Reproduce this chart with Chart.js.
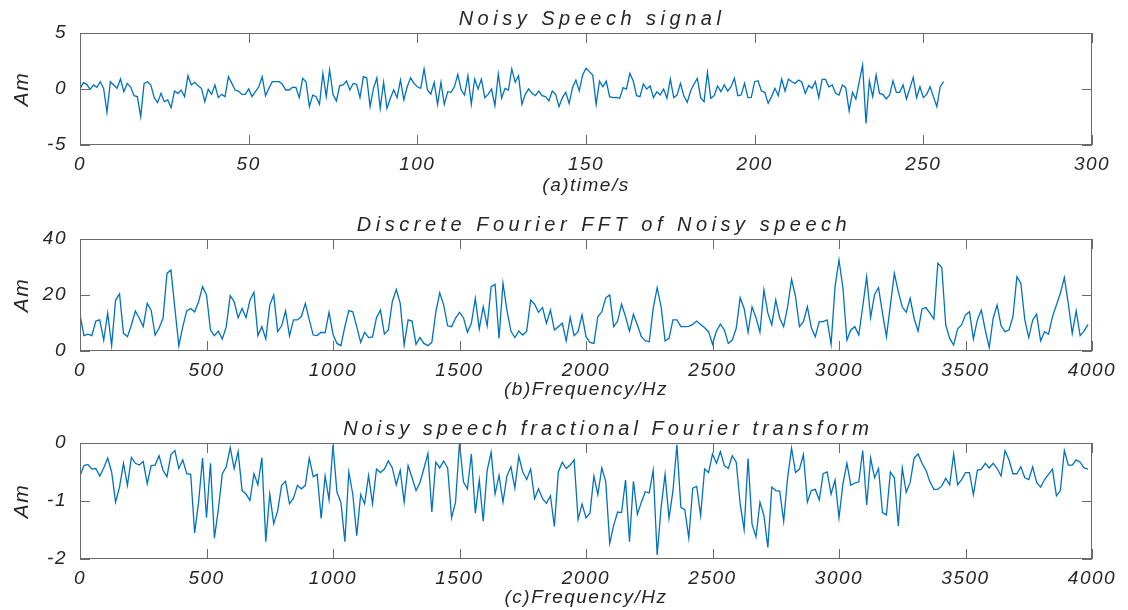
<!DOCTYPE html>
<html>
<head>
<meta charset="utf-8">
<script src="https://cdn.jsdelivr.net/npm/chart.js@4.4.0/dist/chart.umd.min.js"></script>
<style>
  html, body { margin: 0; padding: 0; background: #fff; }
  #wrap { position: relative; width: 1128px; height: 610px; }
  canvas { position: absolute; left: 0; }
</style>
</head>
<body>
<div id="wrap">
  <canvas id="c1" width="1128" height="205" style="top:0px"></canvas>
  <canvas id="c2" width="1128" height="205" style="top:205px"></canvas>
  <canvas id="c3" width="1128" height="200" style="top:410px"></canvas>
</div>
<script>
// (a) noisy speech samples, one per second index
const timeSignal = [
  0, 0.57, 0.42, -0.03, 0.36, 0.15, 0.65, 0.06, -2.08, 0.65,
  0.36, 0.06, 0.89, -0.24, 0.5, 0.2, -0.6, -0.68, -2.47, 0.5,
  0.65, 0.36, -0.77, -1.22, -0.39, -1.13, -0.98, -1.67, -0.18, -0.39,
  -0.09, -0.68, 1.19, 0.36, 0.6, 0.3, 0.06, -1.13, -0.03, -0.48,
  0.36, -0.77, -0.48, -0.68, 1.1, 0.5, -0.09, -0.18, -0.48, -0.48,
  0, -0.68, -0.24, 0.2, 1.1, -0.6, 0.06, 0.65, 0.65, 0.65,
  0.42, -0.09, -0.09, 0.15, 0.15, -0.77, 0.95, 0.65, -1.58, -0.54,
  -0.68, -1.37, 1.4, -0.68, 1.7, -0.48, -1.07, 0.3, 0.36, 0.71,
  -0.09, 0.5, 0.42, -0.77, 1.1, 1.0, -1.58, 0.06, 1.0, -1.73,
  0.6, -1.73, -0.83, -0.09, -0.77, 0.8, -0.98, 0.2, 1.0, 0.5,
  0.2, 0.06, 1.79, -0.09, -0.45, 0.6, -1.37, 0.6, -1.37, -0.24,
  -0.3, 0.2, 1.3, -0.09, -0.54, 1.19, -1.37, 0.89, 0, 0.89,
  -0.77, -0.48, 0, -1.49, 1.34, -0.83, 0.06, -0.09, 1.79,
  0.6, 1.19, -1.37, -0.48, 0, -0.39, -0.6, -0.18, -0.6, -0.68, -1.07,
  -0.18, -0.48, -1.58, -0.77, -0.3, -1.28, 0.12, 0.8, -0.18, 1.25,
  1.85, 1.55, 1.25, -1.37, 0.71, 0.2, 0.71, -0.68, -0.77, -0.74,
  -0.83, 0.12, 0, 1.4, 0.71, -0.6, -0.68, 0.45, 0, 0.27,
  -0.77, -0.24, -0.54, 0, -0.83, 0.89, -0.77, -0.54, 0.5, -0.6,
  -1.19, -0.18, 0.42, 0.95, -0.77, -1.13, 1.49, -0.83, -0.6, 0.27,
  -0.24, 0.36, -0.18,
  0.2, 0.95, -0.6, -0.54, 0.5, -0.77, -0.74,
  0.65, 0.74, -0.18, -0.3, -1.28, -0.68, 0.06, -0.6, 0.89, -0.18,
  0.89, 0.65, 0.5, 0.8, 0.6, -0.39, 0.3, 0.06, 0.65, -0.77,
  0.86, 0.86, 0.2, 0.36, -0.39, -0.54, 0.36, 0.12, -1.96, -0.3,
  -0.89, 0.65, 2.14, -3.07, 0.71, -0.68, 1.25, -0.39, -0.48, -0.89,
  -0.54, 0.74, -0.3, -0.3, 0.36, -0.89, 0.06, 1.04, -0.77, 0.2,
  -0.77, -0.48, 0.2, -0.68, -1.58, 0.2, 0.65
];

// (b) FFT magnitude, one value per frequency bin
const fftMagnitude = [
  13.1, 5.5, 6.0, 5.5, 10.7, 11.1, 3.9, 13.5, 1.9, 18.2,
  20.4, 6.3, 5.1, 9.3, 14.3, 11.7, 8.7, 17.0, 14.6, 5.7,
  8.1, 11.7, 27.7, 28.9, 15.2, 1.9, 8.7, 14.3, 15.2, 14.0,
  17.6, 23.0, 20.0, 7.5, 5.5, 7.1, 4.3, 8.7, 19.8, 17.6,
  11.9, 15.2, 11.9, 18.2, 21.0, 5.5, 8.7, 4.3, 16.4, 20.0,
  6.9, 9.0, 14.3, 5.4, 11.1, 11.1, 12.3, 17.0, 11.1, 5.7,
  5.5, 6.7, 6.5, 13.8, 6.0, 2.7, 1.9, 8.7, 14.4, 14.0,
  8.7, 3.1, 6.7, 4.8, 5.0, 11.9, 14.6, 6.0, 7.5, 17.6,
  22.0, 17.0, 2.1, 11.1, 10.7, 2.4, 4.8, 2.7, 1.9, 3.1,
  13.8, 20.8, 16.4, 9.0, 8.7, 11.7, 13.8, 11.9, 6.7, 9.9,
  18.8, 7.9, 15.8, 9.0, 23.0, 23.8, 4.5, 24.2, 14.6, 7.1,
  4.8, 7.1, 5.7, 7.1, 18.2, 16.7, 13.8, 15.5, 9.9, 14.6,
  7.5, 8.7, 9.9, 3.6, 12.0, 5.5, 6.9, 12.9, 5.1,
  3.1, 2.7, 12.3, 14.0, 19.0, 20.0, 8.7, 10.7, 16.7, 12.3, 7.1,
  13.1, 9.3, 5.1, 3.7, 3.3, 15.2, 22.6, 15.8, 3.6, 4.5,
  11.1, 11.1, 8.7, 8.7, 8.8, 9.5, 10.7, 9.5, 8.3, 6.9,
  2.4, 7.1, 9.6, 7.5, 2.7, 3.9, 8.1, 19.0, 15.2, 6.7,
  15.8, 11.9, 6.7, 21.8, 13.5, 9.3, 18.2, 11.7, 8.7, 15.8,
  25.6, 19.4, 8.7, 10.5, 15.8, 8.3, 5.1, 10.5, 10.5, 11.1,
  2.4, 23.0, 32.5,
  22.4, 3.9, 7.5, 8.7, 5.7, 15.8, 26.5,
  11.9, 20.2, 22.6, 13.5, 5.1, 16.4, 27.7, 21.2, 15.8, 13.8,
  18.8, 11.7, 7.1, 15.0, 15.5, 13.5, 11.4, 31.3, 29.8, 9.3,
  4.5, 2.1, 7.9, 9.3, 12.9, 14.0, 4.3, 11.1, 14.6, 7.5,
  1.2, 11.7, 16.4, 9.0, 6.9, 7.5, 12.3, 26.5, 24.2, 11.1,
  4.8, 11.1, 13.1, 3.6, 6.9, 6.0, 12.3, 16.4, 20.6, 26.2,
  17.0, 6.3, 14.3, 5.5, 7.1, 9.5
];

// (c) fractional Fourier transform, one value per frequency bin
const fracFourier = [
  -0.57, -0.39, -0.37, -0.45, -0.44, -0.57, -0.43, -0.26, -0.5, -1.02,
  -0.76, -0.35, -0.73, -0.25, -0.35, -0.38, -0.32, -0.7, -0.39, -0.38,
  -0.22, -0.47, -0.58, -0.2, -0.13, -0.44, -0.29, -0.53, -0.54, -1.55,
  -1.02, -0.26, -1.29, -0.35, -1.64, -1.14, -0.53, -0.41, -0.08, -0.44,
  -0.15, -0.82, -0.88, -0.99, -0.53, -0.72, -0.25, -1.7, -0.88, -1.39,
  -1.17, -0.73, -0.66, -1.05, -0.95, -0.73, -0.79, -0.73, -0.26, -0.58,
  -0.54, -1.3, -0.57, -0.98, -0.03, -0.85, -1.02, -1.7, -0.5, -0.88,
  -1.6, -0.89, -1.05, -0.56, -1.05, -0.45, -0.51, -0.45, -0.31, -0.43,
  -0.72, -0.47, -1.02, -0.39, -0.6, -0.82, -0.68, -0.44, -0.18, -1.19,
  -0.33, -0.43, -0.31, -0.43, -1.29, -1.02, 0, -0.67, -0.79, -0.19,
  -1.21, -0.64, -1.35, -0.47, -0.16, -0.88, -0.56, -1.02, -0.57, -0.41,
  -0.78, -0.23, -0.5, -0.63, -0.45, -0.96, -0.79, -0.96, -1.04, -0.91,
  -1.44, -0.5, -0.33, -0.44, -0.38, -0.29, -1.32, -1.05, -1.29,
  -1.21, -0.57, -0.89, -0.43, -0.67, -1.73, -1.42, -1.19, -1.2, -0.64, -1.7,
  -0.66, -1.23, -1.02, -0.84, -0.86, -0.47, -1.93, -1.11, -0.54, -1.3,
  -0.82, -0.03, -1.11, -1.15, -1.64, -0.78, -0.75, -1.25, -0.45, -0.51,
  -0.19, -0.35, -0.15, -0.39, -0.44, -0.22, -0.33, -1.05, -1.49, -0.27,
  -1.4, -1.62, -1.02, -1.25, -1.8, -0.76, -0.82, -0.83, -1.35, -0.6,
  -0.09, -0.51, -0.45, -0.2, -1.02, -0.82, -0.8, -0.98, -0.53, -0.5,
  -0.88, -0.64, -1.29,
  -0.7, -0.35, -0.73, -0.69, -0.67, -0.13, -1.07,
  -0.26, -0.6, -0.44, -1.2, -1.24, -0.5, -0.6, -1.43, -0.43, -0.85,
  -0.68, -0.26, -0.19, -0.35, -0.47, -0.67, -0.8, -0.8, -0.74, -0.61,
  -0.72, -0.19, -0.72, -0.63, -0.51, -0.51, -0.89, -0.47, -0.45, -0.35,
  -0.43, -0.35, -0.44, -0.57, -0.13, -0.29, -0.53, -0.53, -0.41, -0.6,
  -0.63, -0.41, -0.68, -0.76, -0.63, -0.54, -0.45, -0.91, -0.82, -0.13,
  -0.38, -0.38, -0.29, -0.33, -0.43, -0.45
];

const binHz = 15.625;

const timeTicks = [0, 50, 100, 150, 200, 250, 300];
const freqTicks = [0, 500, 1000, 1500, 2000, 2500, 3000, 3500, 4000];
const ampTicksA = [-5, 0, 5];
const ampTicksB = [0, 20, 40];
const ampTicksC = [-2, -1, 0];

const ink = '#262626';
const lineBlue = '#0072BD';
const family = '"Liberation Sans", Arial, sans-serif';
const tickFont = { family: family, size: 19, style: 'italic' };
const labelFont = { family: family, size: 19, style: 'italic' };
const amFont = { family: family, size: 21, style: 'italic' };

// MATLAB-like box with inward ticks, plus the panel title
const matlabBox = {
  id: 'matlabBox',
  beforeDraw(chart) {
    chart.ctx.letterSpacing = '1.5px';
  },
  afterDraw(chart, args, opts) {
    const { ctx, chartArea: a, scales: { x, y } } = chart;
    ctx.save();
    ctx.strokeStyle = '#6a6a6a';
    ctx.lineWidth = 1;
    ctx.beginPath();
    x.ticks.forEach(t => {
      const px = Math.round(x.getPixelForValue(t.value)) + 0.5;
      ctx.moveTo(px, a.bottom); ctx.lineTo(px, a.bottom - 10);
      ctx.moveTo(px, a.top); ctx.lineTo(px, a.top + 10);
    });
    y.ticks.forEach(t => {
      const py = Math.round(y.getPixelForValue(t.value)) + 0.5;
      ctx.moveTo(a.left, py); ctx.lineTo(a.left + 10, py);
      ctx.moveTo(a.right, py); ctx.lineTo(a.right - 10, py);
    });
    ctx.stroke();
    ctx.strokeRect(Math.round(a.left) + 0.5, Math.round(a.top) + 0.5,
      Math.round(a.width) - 1, Math.round(a.height) - 1);

    ctx.font = 'italic 20px ' + family;
    ctx.letterSpacing = opts.spacing || '4px';
    ctx.fillStyle = ink;
    ctx.textAlign = 'center';
    ctx.textBaseline = 'middle';
    ctx.fillText(opts.text, (a.left + a.right) / 2 + (opts.shift || 0), a.top - 14);
    ctx.restore();
  }
};

function makePanel(id, xs, ys, p) {
  const ctx = document.getElementById(id).getContext('2d');
  return new Chart(ctx, {
    type: 'line',
    data: {
      datasets: [{
        data: ys.map((v, i) => ({ x: xs[i], y: v })),
        borderColor: lineBlue,
        borderWidth: 1.3,
        pointRadius: 0,
        tension: 0,
        fill: false,
      }],
    },
    options: {
      responsive: false,
      animation: false,
      devicePixelRatio: 1,
      layout: { padding: { top: p.top, right: 36, left: 0, bottom: 0 } },
      plugins: {
        legend: { display: false },
        tooltip: { enabled: false },
        matlabBox: { text: p.title, spacing: p.titleSpacing, shift: p.titleShift },
      },
      scales: {
        x: {
          type: 'linear',
          min: p.xTicks[0],
          max: p.xTicks[p.xTicks.length - 1],
          afterBuildTicks: s => { s.ticks = p.xTicks.map(v => ({ value: v })); },
          afterFit: s => { s.height = p.xHeight; },
          grid: { display: false },
          border: { display: false },
          ticks: { font: tickFont, color: ink, padding: p.xTickPad, maxRotation: 0, autoSkip: false,
                   callback: v => String(v) },
          title: { display: true, text: p.xLabel, font: labelFont, color: ink, padding: { top: 0, bottom: p.xTitlePad } },
        },
        y: {
          min: p.yTicks[0],
          max: p.yTicks[p.yTicks.length - 1],
          afterBuildTicks: s => { s.ticks = p.yTicks.map(v => ({ value: v })); },
          afterFit: s => { s.width = 80; },
          grid: { display: false },
          border: { display: false },
          ticks: { font: tickFont, color: ink, padding: 5, callback: v => String(v) },
          title: { display: true, text: 'Am', font: amFont, color: ink, padding: { top: 10, bottom: 0 } },
        },
      },
    },
    plugins: [matlabBox],
  });
}

const timeAxis = timeSignal.map((_, i) => i);
const freqAxisB = fftMagnitude.map((_, i) => i * binHz);
const freqAxisC = fracFourier.map((_, i) => i * binHz);

makePanel('c1', timeAxis, timeSignal, {
  top: 33, xHeight: 60, xTickPad: 0, xTitlePad: 7.6,
  xTicks: timeTicks, yTicks: ampTicksA,
  title: 'Noisy Speech signal', titleSpacing: '4.5px', titleShift: 6, xLabel: '(a)time/s',
});
makePanel('c2', freqAxisB, fftMagnitude, {
  top: 34, xHeight: 59, xTickPad: 0, xTitlePad: 8.6,
  xTicks: freqTicks, yTicks: ampTicksB,
  title: 'Discrete Fourier FFT of Noisy speech', titleSpacing: '4.5px', titleShift: 18, xLabel: '(b)Frequency/Hz',
});
makePanel('c3', freqAxisC, fracFourier, {
  top: 33, xHeight: 51, xTickPad: 0, xTitlePad: 0.6,
  xTicks: freqTicks, yTicks: ampTicksC,
  title: 'Noisy speech fractional Fourier transform', titleSpacing: '4px', titleShift: 22, xLabel: '(c)Frequency/Hz',
});
</script>
</body>
</html>
